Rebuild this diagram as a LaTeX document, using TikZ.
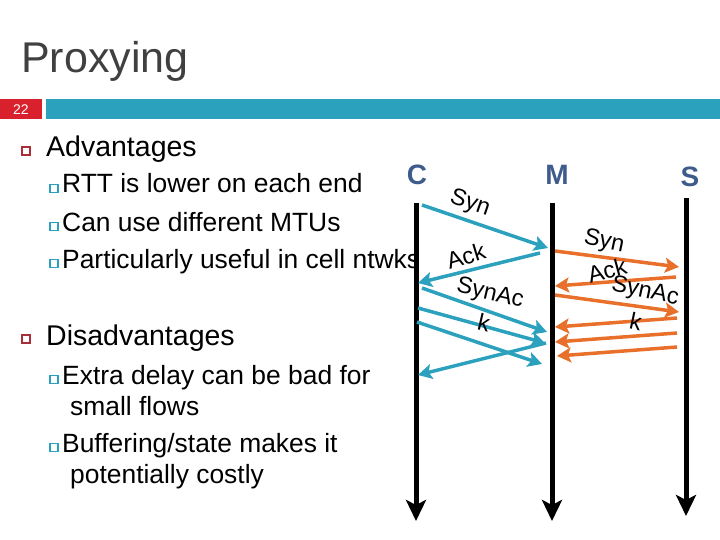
\documentclass[tikz,border=0pt]{standalone}
\usepackage{fontspec}
\setmainfont{Liberation Sans}
\usetikzlibrary{arrows.meta}
\definecolor{tealc}{RGB}{44,161,190}
\definecolor{orng}{RGB}{232,112,42}
\definecolor{redbox}{RGB}{217,33,45}
\definecolor{bulred}{RGB}{170,45,55}
\definecolor{ttl}{RGB}{64,64,64}
\definecolor{lbl}{RGB}{62,91,140}
\begin{document}
\begin{tikzpicture}[x=1pt,y=-1pt,
  maintxt/.style={anchor=base west, inner sep=0pt, font=\fontsize{28.5}{34}\selectfont},
  subtxt/.style={anchor=base west, inner sep=0pt, font=\fontsize{26.4}{31}\selectfont},
  redbul/.style={draw=bulred, line width=1.5pt},
  tealbul/.style={draw=tealc, line width=1.2pt},
  ends/.style={font=\fontsize{28}{34}\selectfont\bfseries, text=lbl, inner sep=0pt},
  msglbl/.style={font=\fontsize{23.5}{28}\selectfont, inner sep=0pt},
  life/.style={line width=5pt, -{Stealth[length=21pt,width=20pt,inset=5pt]}},
  tmsg/.style={draw=tealc, line width=3.5pt, -{Stealth[length=14pt,width=15pt,inset=3pt]}},
  omsg/.style={draw=orng, line width=3.5pt, -{Stealth[length=14pt,width=15pt,inset=3pt]}}
]
\useasboundingbox (0,0) rectangle (720,540);
% title
\node[anchor=base west, inner sep=0pt, text=ttl, font=\fontsize{43}{48}\selectfont] (title) at (21,73) {Proxying};
% header bar
\fill[redbox] (0,99) rectangle (42,119);
\node[text=white, font=\fontsize{14}{16}\selectfont, inner sep=0pt] (num) at (21,109.5) {22};
\fill[tealc] (46,99) rectangle (720,119);
% bullets
\draw[redbul] (22,147) rectangle (30,155);
\node[maintxt] (adv) at (46,157) {Advantages};
\draw[tealbul] (50,184.5) rectangle (58,192.5);
\node[subtxt] (a1) at (62,193) {RTT is lower on each end};
\draw[tealbul] (50,222.5) rectangle (58,230.5);
\node[subtxt] (a2) at (62,231) {Can use different MTUs};
\draw[tealbul] (50,259.5) rectangle (58,267.5);
\node[subtxt] (a3) at (62,268) {Particularly useful in cell ntwks};
\draw[redbul] (22,335) rectangle (30,343);
\node[maintxt] (dis) at (46,345) {Disadvantages};
\draw[tealbul] (50,375.5) rectangle (58,383.5);
\node[subtxt] (d1) at (62,384) {Extra delay can be bad for};
\node[subtxt] (d1b) at (70,415) {small flows};
\draw[tealbul] (50,443.5) rectangle (58,451.5);
\node[subtxt] (d2) at (62,452) {Buffering/state makes it};
\node[subtxt] (d2b) at (70,483) {potentially costly};
% endpoints
\node[ends] (C) at (417,175) {C};
\node[ends] (M) at (557,175) {M};
\node[ends] (S) at (690,177) {S};
\coordinate (Ct) at (416,203); \coordinate (Cb) at (416,521);
\coordinate (Mt) at (552,203); \coordinate (Mb) at (552,521);
\coordinate (St) at (686,198); \coordinate (Sb) at (686,516);
\draw[life] (Ct) -- (Cb);
\draw[life] (Mt) -- (Mb);
\draw[life] (St) -- (Sb);
% teal messages
\coordinate (t1a) at (422,205); \coordinate (t1b) at (548,248);
\coordinate (t2a) at (540,253); \coordinate (t2b) at (418,283);
\coordinate (t3a) at (422,288); \coordinate (t3b) at (547,332);
\coordinate (t4a) at (418,308); \coordinate (t4b) at (545,343);
\coordinate (t5a) at (417,322); \coordinate (t5b) at (542,364);
\coordinate (t6a) at (546,343); \coordinate (t6b) at (418,375);
\draw[tmsg] (t1a) -- (t1b);
\draw[tmsg] (t2a) -- (t2b);
\draw[tmsg] (t3a) -- (t3b);
\draw[tmsg] (t4a) -- (t4b);
\draw[tmsg] (t5a) -- (t5b);
\draw[tmsg] (t6a) -- (t6b);
% orange messages
\coordinate (o1a) at (555,251); \coordinate (o1b) at (679,267);
\coordinate (o2a) at (676,277); \coordinate (o2b) at (555,286);
\coordinate (o3a) at (555,295); \coordinate (o3b) at (679,312);
\coordinate (o4a) at (677,318); \coordinate (o4b) at (555,327);
\coordinate (o5a) at (677,333); \coordinate (o5b) at (555,342);
\coordinate (o6a) at (677,347); \coordinate (o6b) at (557,356);
\draw[omsg] (o1a) -- (o1b);
\draw[omsg] (o2a) -- (o2b);
\draw[omsg] (o3a) -- (o3b);
\draw[omsg] (o4a) -- (o4b);
\draw[omsg] (o5a) -- (o5b);
\draw[omsg] (o6a) -- (o6b);
% message labels
\node[msglbl, rotate=-19] (ls1) at (470,204) {Syn};
\node[msglbl, rotate=17] (la1) at (466,256) {Ack};
\node[msglbl, rotate=-13] (lsa1) at (490,294) {SynAc};
\node[msglbl, rotate=-13] (lk1) at (484,323) {k};
\node[msglbl, rotate=-12] (ls2) at (604,242) {Syn};
\node[msglbl, rotate=15] (la2) at (607,270) {Ack};
\node[msglbl, rotate=-12] (lsa2) at (645,292) {SynAc};
\node[msglbl, rotate=-12] (lk2) at (636,321) {k};
\end{tikzpicture}
\end{document}
